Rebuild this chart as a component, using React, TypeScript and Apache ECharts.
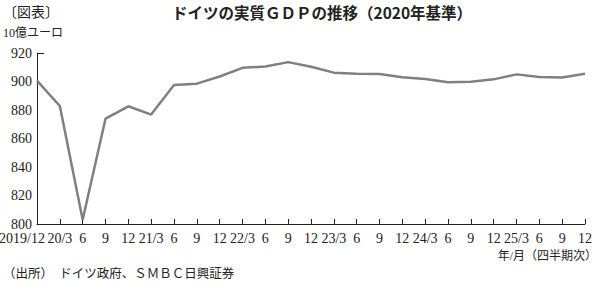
import React, { useEffect, useRef } from "react";
import * as echarts from "echarts";

const categories = [
  "2019/12", "20/3", "6", "9", "12", "21/3", "6", "9", "12", "22/3", "6", "9", "12",
  "23/3", "6", "9", "12", "24/3", "6", "9", "12", "25/3", "6", "9", "12",
];
const gdpValues = [
  900.6, 882.8, 803.0, 873.9, 882.6, 876.8, 897.6, 898.5, 903.5, 909.6, 910.5, 913.6, 910.4,
  906.2, 905.5, 905.3, 903.0, 901.8, 899.5, 899.9, 901.5, 905.0, 903.2, 902.8, 905.4,
];
const yMin = 800;
const yMax = 920;
const yStep = 20;

const titleText = "ドイツの実質ＧＤＰの推移（2020年基準）";
const figText = "〔図表〕";
const unitText = "10億ユーロ";
const xUnitText = "年/月（四半期次）";
const sourceText = "（出所）　ドイツ政府、ＳＭＢＣ日興証券";

const serif = "'Liberation Serif', 'Noto Sans CJK JP', serif";
const sans = "'Noto Sans CJK JP', sans-serif";

export default function App() {
  const ref = useRef<HTMLDivElement>(null);
  useEffect(() => {
    if (!ref.current) return;
    const chart = echarts.init(ref.current, undefined, { renderer: "svg" });
    chart.setOption({
      animation: false,
      backgroundColor: "#ffffff",
      textStyle: { fontFamily: serif, color: "#222" },
      grid: { left: 37, right: 15, top: 53, bottom: 64, containLabel: false, outerBoundsMode: "none" },
      graphic: [
        { type: "text", left: 3, top: 5, style: { text: figText, font: `14px ${serif}`, fill: "#222" } },
        { type: "text", left: 172, top: 4, style: { text: titleText, font: `bold 15.5px ${sans}`, fill: "#222" } },
        { type: "text", left: 3, top: 27, style: { text: unitText, font: `12px ${serif}`, fill: "#222" } },
        { type: "text", right: 3, top: 250, style: { text: xUnitText, font: `12px ${serif}`, fill: "#222" } },
        { type: "text", left: 3, top: 268, style: { text: sourceText, font: `12.5px ${serif}`, fill: "#222" } },
      ],
      xAxis: {
        type: "category",
        data: categories,
        boundaryGap: false,
        axisLine: { lineStyle: { color: "#222", width: 1 } },
        axisTick: { inside: true, length: 5, interval: 0, lineStyle: { color: "#222" } },
        axisLabel: {
          interval: 0,
          margin: 7,
          fontSize: 14,
          color: "#222",
          fontFamily: serif,
          formatter: (v: string, i: number) => (i === 0 ? `{f|${v}}` : v),
          rich: { f: { fontSize: 14, fontFamily: serif, color: "#222", padding: [0, 30, 0, 0] } },
        },
        splitLine: { show: false },
      },
      yAxis: {
        type: "value",
        min: yMin,
        max: yMax,
        interval: yStep,
        axisLine: { show: true, lineStyle: { color: "#222", width: 1 } },
        axisTick: { show: true, inside: true, length: 7, customValues: [yMax], lineStyle: { color: "#222" } },
        axisLabel: { fontSize: 14, color: "#222", margin: 5, fontFamily: serif },
        splitLine: { show: false },
      },
      series: [
        {
          type: "line",
          data: gdpValues,
          showSymbol: false,
          symbol: "none",
          lineStyle: { color: "#808080", width: 2.5 },
        },
      ],
    });
    return () => chart.dispose();
  }, []);
  return <div ref={ref} style={{ width: 600, height: 288, position: "absolute", left: 0, top: 0 }} />;
}
